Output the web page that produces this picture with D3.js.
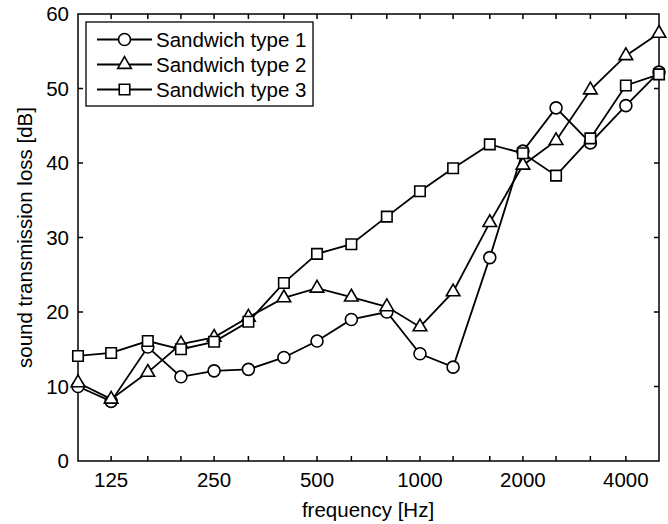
<!DOCTYPE html>
<html>
<head>
<meta charset="utf-8">
<script src="https://cdn.jsdelivr.net/npm/d3@7"></script>
<style>
  body { margin: 0; background: #fff; }
  svg { display: block; font-family: "Liberation Sans", Arial, sans-serif; }
</style>
</head>
<body>
<script>
// third-octave band centres [Hz]
var freqs = [100, 125, 160, 200, 250, 315, 400, 500, 630, 800, 1000, 1250, 1600, 2000, 2500, 3150, 4000, 5000];
var type1 = [10.0, 8.0, 15.3, 11.3, 12.1, 12.3, 13.9, 16.1, 19.0, 20.0, 14.4, 12.6, 27.3, 41.6, 47.4, 42.7, 47.7, 52.2];
var type2 = [10.5, 8.3, 11.9, 15.7, 16.6, 19.3, 21.9, 23.2, 22.0, 20.7, 18.0, 22.7, 32.0, 39.7, 43.0, 49.8, 54.4, 57.4];
var type3 = [14.1, 14.5, 16.1, 15.0, 16.0, 18.7, 23.9, 27.8, 29.1, 32.8, 36.2, 39.3, 42.5, 41.3, 38.3, 43.3, 50.4, 51.9];
var seriesNames = ["Sandwich type 1", "Sandwich type 2", "Sandwich type 3"];
var xTickLabels = [125, 250, 500, 1000, 2000, 4000];
var yTicks = [0, 10, 20, 30, 40, 50, 60];

(function() {
  var W = 668, H = 524;
  var mL = 78, mR = 659, mT = 14, mB = 461;

  var svg = d3.select("body").append("svg").attr("width", W).attr("height", H);

  var x = d3.scaleLog().domain([100, 5000]).range([mL, mR]);
  var y = d3.scaleLinear().domain([0, 60]).range([mB, mT]);

  var tickLen = 5;
  var axisG = svg.append("g").attr("stroke", "#000").attr("stroke-width", 1.5);

  // ticks on every band, bottom and top, pointing inward
  var innerFreqs = freqs.slice(1, -1);
  axisG.selectAll("line.xb").data(innerFreqs).enter().append("line")
    .attr("x1", function(d) { return x(d); }).attr("x2", function(d) { return x(d); })
    .attr("y1", mB).attr("y2", mB - tickLen);
  axisG.selectAll("line.xt").data(innerFreqs).enter().append("line")
    .attr("x1", function(d) { return x(d); }).attr("x2", function(d) { return x(d); })
    .attr("y1", mT).attr("y2", mT + tickLen);
  axisG.selectAll("line.yl").data(yTicks.slice(1, -1)).enter().append("line")
    .attr("x1", mL).attr("x2", mL + tickLen)
    .attr("y1", function(d) { return y(d); }).attr("y2", function(d) { return y(d); });
  axisG.selectAll("line.yr").data(yTicks.slice(1, -1)).enter().append("line")
    .attr("x1", mR).attr("x2", mR - tickLen)
    .attr("y1", function(d) { return y(d); }).attr("y2", function(d) { return y(d); });

  axisG.append("rect")
    .attr("x", mL).attr("y", mT)
    .attr("width", mR - mL).attr("height", mB - mT)
    .attr("fill", "none");

  svg.selectAll("text.xt").data(xTickLabels).enter().append("text")
    .attr("x", function(d) { return x(d); }).attr("y", 487)
    .attr("text-anchor", "middle").attr("font-size", 20.5)
    .text(function(d) { return d; });

  svg.selectAll("text.yt").data(yTicks).enter().append("text")
    .attr("x", 69).attr("y", function(d) { return y(d); })
    .attr("dy", "0.36em")
    .attr("text-anchor", "end").attr("font-size", 20.5)
    .text(function(d) { return d; });

  svg.append("text")
    .attr("x", 368).attr("y", 517)
    .attr("text-anchor", "middle").attr("font-size", 20.5)
    .text("frequency [Hz]");

  svg.append("text")
    .attr("transform", "translate(32," + (mT + mB) / 2 + ") rotate(-90)")
    .attr("text-anchor", "middle").attr("font-size", 20.5)
    .text("sound transmission loss [dB]");

  var shapes = [d3.symbolCircle, d3.symbolTriangle, d3.symbolSquare];
  var sizes = [113, 80, 110];
  var allSeries = [type1, type2, type3];

  var line = d3.line()
    .x(function(d, i) { return x(freqs[i]); })
    .y(function(d) { return y(d); });

  allSeries.forEach(function(vals, k) {
    var g = svg.append("g");
    g.append("path").datum(vals)
      .attr("d", line)
      .attr("fill", "none").attr("stroke", "#000").attr("stroke-width", 1.8);
    g.selectAll("path.m").data(vals).enter().append("path")
      .attr("d", d3.symbol().type(shapes[k]).size(sizes[k]))
      .attr("transform", function(d, i) { return "translate(" + x(freqs[i]) + "," + y(d) + ")"; })
      .attr("fill", "#fff").attr("stroke", "#000").attr("stroke-width", 1.6);
  });

  // legend
  var lg = svg.append("g");
  lg.append("rect")
    .attr("x", 86).attr("y", 22).attr("width", 227).attr("height", 84)
    .attr("fill", "#fff").attr("stroke", "#000").attr("stroke-width", 1.3);
  seriesNames.forEach(function(name, k) {
    var cy = 39.5 + k * 25;
    lg.append("line").attr("x1", 97).attr("x2", 152).attr("y1", cy).attr("y2", cy)
      .attr("stroke", "#000").attr("stroke-width", 1.8);
    lg.append("path")
      .attr("d", d3.symbol().type(shapes[k]).size(sizes[k]))
      .attr("transform", "translate(124.5," + cy + ")")
      .attr("fill", "#fff").attr("stroke", "#000").attr("stroke-width", 1.6);
    lg.append("text").attr("x", 156).attr("y", cy).attr("dy", "0.36em")
      .attr("font-size", 20.5).text(name);
  });
})();
</script>
</body>
</html>
